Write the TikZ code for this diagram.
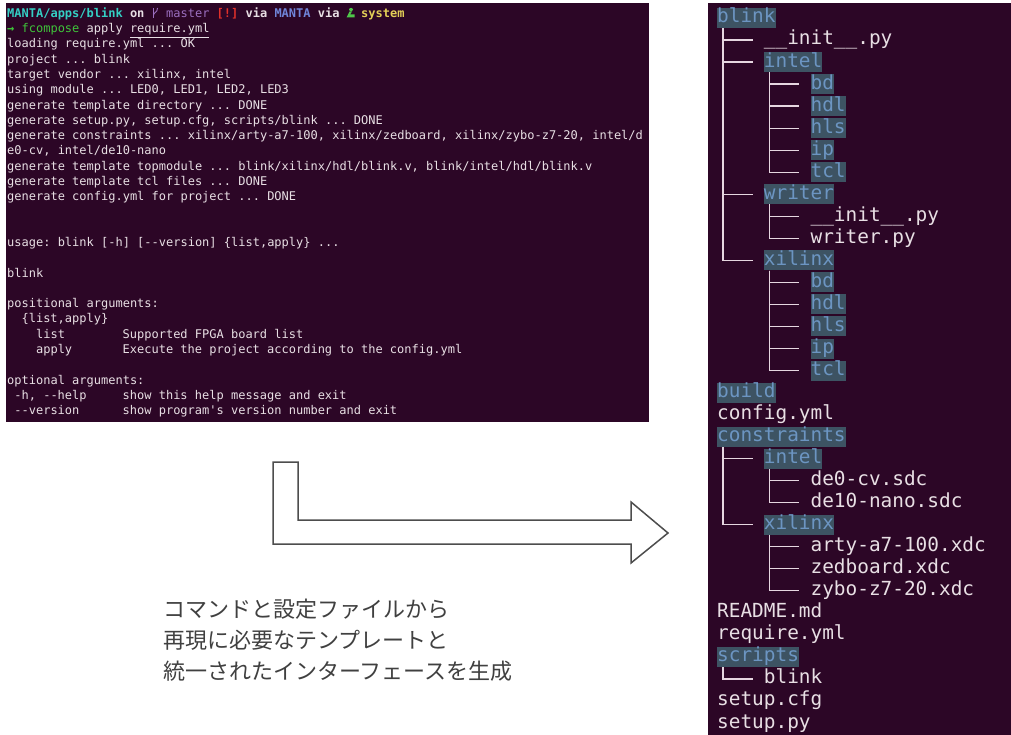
\documentclass[tikz,border=0pt]{standalone}
\usepackage{fontspec}
\usepackage{xcolor}
\usepackage{tikz}
\setmonofont{DejaVu Sans Mono}
\newfontfamily\jpfont{Noto Sans CJK JP}

\definecolor{termbg}{HTML}{2C0626}
\definecolor{termfg}{HTML}{E8DFE4}
\definecolor{dirbg}{HTML}{3D5363}
\definecolor{dirfg}{HTML}{6C95C2}
\definecolor{treeln}{HTML}{E6D6E0}
\definecolor{pathc}{HTML}{34CFC4}
\definecolor{gitc}{HTML}{9B6FBF}
\definecolor{warnc}{HTML}{E0302A}
\definecolor{envc}{HTML}{7086DA}
\definecolor{pyc}{HTML}{4FC64A}
\definecolor{sysc}{HTML}{E3CF57}
\definecolor{promptc}{HTML}{3FC43A}
\definecolor{jptext}{HTML}{404040}
\definecolor{arrowc}{HTML}{4D4D4D}

\begin{document}
\begin{tikzpicture}[x=1pt, y=-1pt,
    term/.style={anchor=base west, inner sep=0pt, text=termfg, font=\ttfamily\fontsize{12}{14}\selectfont},
    file/.style={anchor=base west, inner sep=0pt, text height=15pt, text depth=5pt, text=termfg, font=\ttfamily\fontsize{19.4}{22}\selectfont},
    dir/.style={file, fill=dirbg, text=dirfg},
    branch/.style={treeln, line width=1.3pt},
    jp/.style={anchor=base west, inner sep=0pt, text=jptext, font=\jpfont\fontsize{22}{26}\selectfont}]
        \fill[white] (0,0) rectangle (1011,735);
        \useasboundingbox (0,0) rectangle (1011,735);

        % Terminal window
        \fill[termbg] (6,3) rectangle (649,422);
        \node[term] (prompt) at (7,17.5) {\bfseries\textcolor{pathc}{MANTA/apps/blink} on \phantom{x} \textcolor{gitc}{\mdseries master} \textcolor{warnc}{[!]} via \textcolor{envc}{MANTA} via \phantom{x} \textcolor{sysc}{system}};
        \draw[gitc, line width=0.9pt] (153.5,18) -- (153.5,8);
        \draw[gitc, line width=0.9pt] (157.5,8) .. controls (157.5,13) and (153.5,12) .. (153.5,15.5);
        \fill[pyc] (351,9.5) ellipse (2pt and 1.6pt);
        \fill[pyc] (349.5,11.5) -- (352,11.5) -- (350,14.5) -- (354.5,14.5) -- (354.5,17.5) -- (346.5,17.5) -- cycle;
        \node[term] (cmd) at (7,32.8) {\bfseries\textcolor{promptc}{→} \mdseries\textcolor{promptc}{fcompose} apply \underline{require.yml}};
        \node[term] (l3) at (7,48.0) {loading require.yml ... OK};
        \node[term] (l4) at (7,63.3) {project ... blink};
        \node[term] (l5) at (7,78.6) {target vendor ... xilinx, intel};
        \node[term] (l6) at (7,93.9) {using module ... LED0, LED1, LED2, LED3};
        \node[term] (l7) at (7,109.1) {generate template directory ... DONE};
        \node[term] (l8) at (7,124.4) {generate setup.py, setup.cfg, scripts/blink ... DONE};
        \node[term] (l9) at (7,139.7) {generate constraints ... xilinx/arty-a7-100, xilinx/zedboard, xilinx/zybo-z7-20, intel/d};
        \node[term] (l10) at (7,154.9) {e0-cv, intel/de10-nano};
        \node[term] (l11) at (7,170.2) {generate template topmodule ... blink/xilinx/hdl/blink.v, blink/intel/hdl/blink.v};
        \node[term] (l12) at (7,185.5) {generate template tcl files ... DONE};
        \node[term] (l13) at (7,200.7) {generate config.yml for project ... DONE};
        \node[term] (usage) at (7,246.5) {usage: blink [-h] [--version] \{list,apply\} ...};
        \node[term] (prog) at (7,277.1) {blink};
        \node[term] (posargs) at (7,307.6) {positional arguments:};
        \node[term] (choices) at (21.4,322.9) {\{list,apply\}};
        \node[term] (list) at (35.9,338.2) {list};
        \node[term] (listhelp) at (122.5,338.2) {Supported FPGA board list};
        \node[term] (apply) at (35.9,353.4) {apply};
        \node[term] (applyhelp) at (122.5,353.4) {Execute the project according to the config.yml};
        \node[term] (optargs) at (7,384.0) {optional arguments:};
        \node[term] (help) at (14.2,399.2) {-h, --help};
        \node[term] (helphelp) at (122.5,399.2) {show this help message and exit};
        \node[term] (version) at (14.2,414.5) {--version};
        \node[term] (versionhelp) at (122.5,414.5) {show program's version number and exit};

        % Bent arrow
        \draw[arrowc, line width=1.5pt, fill=white] (273,462) -- (298,462) -- (298,520) -- (631,520) -- (631,502)
            -- (668,533) -- (631,563) -- (631,544) -- (273,544) -- cycle;

        % Caption
        \node[jp] (jp1) at (163,617) {コマンドと設定ファイルから};
        \node[jp] (jp2) at (163,648) {再現に必要なテンプレートと};
        \node[jp] (jp3) at (163,679) {統一されたインターフェースを生成};

        % Directory tree
        \fill[termbg] (708,3) rectangle (1011,735);
        \node[dir] (blink) at (717,23) {blink};
        \node[file] (initA) at (763.7,45) {\_\_init\_\_.py};
        \node[dir] (intel) at (763.7,67.1) {intel};
        \node[dir] (ibd) at (810.4,89.1) {bd};
        \node[dir] (ihdl) at (810.4,111.1) {hdl};
        \node[dir] (ihls) at (810.4,133.2) {hls};
        \node[dir] (iip) at (810.4,155.2) {ip};
        \node[dir] (itcl) at (810.4,177.2) {tcl};
        \node[dir] (writer) at (763.7,199.2) {writer};
        \node[file] (initB) at (810.4,221.3) {\_\_init\_\_.py};
        \node[file] (writerpy) at (810.4,243.3) {writer.py};
        \node[dir] (xilinx) at (763.7,265.3) {xilinx};
        \node[dir] (xbd) at (810.4,287.4) {bd};
        \node[dir] (xhdl) at (810.4,309.4) {hdl};
        \node[dir] (xhls) at (810.4,331.4) {hls};
        \node[dir] (xip) at (810.4,353.5) {ip};
        \node[dir] (xtcl) at (810.4,375.5) {tcl};
        \node[dir] (build) at (717,397.5) {build};
        \node[file] (config) at (717,419.5) {config.yml};
        \node[dir] (constr) at (717,441.6) {constraints};
        \node[dir] (cintel) at (763.7,463.6) {intel};
        \node[file] (de0) at (810.4,485.7) {de0-cv.sdc};
        \node[file] (de10) at (810.4,507.7) {de10-nano.sdc};
        \node[dir] (cxilinx) at (763.7,529.7) {xilinx};
        \node[file] (arty) at (810.4,551.7) {arty-a7-100.xdc};
        \node[file] (zed) at (810.4,573.8) {zedboard.xdc};
        \node[file] (zybo) at (810.4,595.8) {zybo-z7-20.xdc};
        \node[file] (readme) at (717,617.8) {README.md};
        \node[file] (require) at (717,639.9) {require.yml};
        \node[dir] (scripts) at (717,661.9) {scripts};
        \node[file] (sblink) at (763.7,683.9) {blink};
        \node[file] (setupcfg) at (717,705.9) {setup.cfg};
        \node[file] (setuppy) at (717,728) {setup.py};

        % Tree branches
        \foreach \c in {initA,intel,writer,xilinx}
            \draw[branch] ([xshift=6pt]blink.south west) |- ([xshift=-11pt]\c.west);
        \foreach \c in {ibd,ihdl,ihls,iip,itcl}
            \draw[branch] ([xshift=6pt]intel.south west) |- ([xshift=-11pt]\c.west);
        \foreach \c in {initB,writerpy}
            \draw[branch] ([xshift=6pt]writer.south west) |- ([xshift=-11pt]\c.west);
        \foreach \c in {xbd,xhdl,xhls,xip,xtcl}
            \draw[branch] ([xshift=6pt]xilinx.south west) |- ([xshift=-11pt]\c.west);
        \foreach \c in {cintel,cxilinx}
            \draw[branch] ([xshift=6pt]constr.south west) |- ([xshift=-11pt]\c.west);
        \foreach \c in {de0,de10}
            \draw[branch] ([xshift=6pt]cintel.south west) |- ([xshift=-11pt]\c.west);
        \foreach \c in {arty,zed,zybo}
            \draw[branch] ([xshift=6pt]cxilinx.south west) |- ([xshift=-11pt]\c.west);
        \draw[branch] ([xshift=6pt]scripts.south west) |- ([xshift=-11pt]sblink.west);
    \end{tikzpicture}
\end{document}
